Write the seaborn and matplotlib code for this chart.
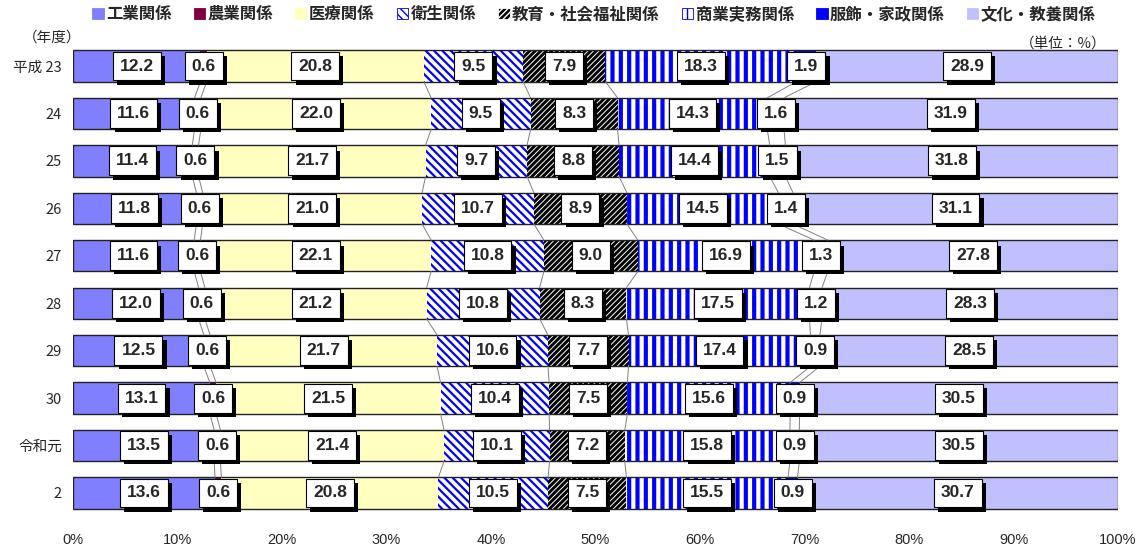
import numpy as np
import pandas as pd
import matplotlib
matplotlib.use('Agg')
import matplotlib.pyplot as plt
import matplotlib.patheffects as pe
from matplotlib.patches import Patch
import seaborn as sns

years = ['平成 23', '24', '25', '26', '27', '28', '29', '30', '令和元', '2']
categories = ['工業関係', '農業関係', '医療関係', '衛生関係', '教育・社会福祉関係',
              '商業実務関係', '服飾・家政関係', '文化・教養関係']

kogyo = [12.2, 11.6, 11.4, 11.8, 11.6, 12.0, 12.5, 13.1, 13.5, 13.6]
nogyo = [0.6, 0.6, 0.6, 0.6, 0.6, 0.6, 0.6, 0.6, 0.6, 0.6]
iryo = [20.8, 22.0, 21.7, 21.0, 22.1, 21.2, 21.7, 21.5, 21.4, 20.8]
eisei = [9.5, 9.5, 9.7, 10.7, 10.8, 10.8, 10.6, 10.4, 10.1, 10.5]
kyoiku = [7.9, 8.3, 8.8, 8.9, 9.0, 8.3, 7.7, 7.5, 7.2, 7.5]
shogyo = [18.3, 14.3, 14.4, 14.5, 16.9, 17.5, 17.4, 15.6, 15.8, 15.5]
fukushoku = [1.9, 1.6, 1.5, 1.4, 1.3, 1.2, 0.9, 0.9, 0.9, 0.9]
bunka = [28.9, 31.9, 31.8, 31.1, 27.8, 28.3, 28.5, 30.5, 30.5, 30.7]

series = [kogyo, nogyo, iryo, eisei, kyoiku, shogyo, fukushoku, bunka]

# face, hatch colour, hatch, hatch linewidth
styles = [
    ('#8080ff', '#8080ff', None, 1.0),
    ('#800040', '#800040', None, 1.0),
    ('#ffffc0', '#ffffc0', None, 1.0),
    ('white', '#0000ff', '\\\\\\\\', 1.6),
    ('black', 'white', '//////', 0.7),
    ('white', '#0000ff', '||', 3.0),
    ('#0000ff', '#0000ff', None, 1.0),
    ('#c0c0ff', '#c0c0ff', None, 1.0),
]

sns.set_theme(style='white')
plt.rcParams['font.family'] = ['Noto Sans CJK JP', 'DejaVu Sans']
num_font = ['Liberation Sans Narrow', 'Liberation Sans', 'DejaVu Sans']

values = np.array(series).T
pct = values / values.sum(axis=1, keepdims=True) * 100
cum = np.cumsum(pct, axis=1)

fig = plt.figure(figsize=(11.42, 5.48), dpi=100)
ax = fig.add_axes([0.064, 0.0571, 0.915, 0.8657])

h = 0.66

# stacked bars drawn as overlapping cumulative bars, right-most first
for k in reversed(range(len(series))):
    fc, hc, hatch, hlw = styles[k]
    df = pd.DataFrame({'year': years, 'x': cum[:, k]})
    n0 = len(ax.patches)
    with plt.rc_context({'hatch.linewidth': hlw}):
        sns.barplot(data=df, x='x', y='year', orient='h', saturation=1, width=h,
                    errorbar=None, facecolor=fc, edgecolor=hc, linewidth=0,
                    hatch=hatch, ax=ax)
    for p in ax.patches[n0:]:
        if hasattr(p, 'set_hatch_linewidth'):
            p.set_hatch_linewidth(hlw)

# outline of each bar
sns.barplot(x=cum[:, -1], y=years, orient='h', width=h, errorbar=None, fill=False,
            edgecolor='#222222', linewidth=1.0, ax=ax)

# series lines
for i in range(len(years) - 1):
    for k in range(len(series)):
        ax.plot([cum[i, k], cum[i + 1, k]], [i + h / 2, i + 1 - h / 2],
                color='#808080', lw=0.7, zorder=1)

# value labels
for i in range(len(years)):
    for k in range(len(series)):
        cx = cum[i, k] - pct[i, k] / 2
        t = ax.text(cx, i, f'{values[i, k]:.1f}', ha='center', va='center',
                    fontsize=12.5, fontweight='bold', family=num_font, zorder=5,
                    bbox=dict(boxstyle='square,pad=0.4', fc='white', ec='black', lw=0.8))
        t.get_bbox_patch().set_path_effects([
            pe.SimplePatchShadow(offset=(3, -3), shadow_rgbFace='black', alpha=1.0),
            pe.Normal()])

ax.set_xlim(0, 100)
ax.set_ylim(len(years) - 0.5, -0.5)
ax.set_xticks(range(0, 101, 10))
ax.set_xticklabels([f'{v}%' for v in range(0, 101, 10)], family=num_font, fontsize=10.5)
ax.set_xlabel('')
ax.set_ylabel('')
ax.tick_params(axis='x', length=0, pad=12)
ax.tick_params(axis='y', length=0, pad=8, labelsize=10.5)
sns.despine(ax=ax, left=True, bottom=True)

fig.text(23 / 1142, 1 - 38 / 548, '（年度）', fontsize=10.5, va='center', ha='left')
fig.text(1107 / 1142, 1 - 44 / 548, '（単位：%）', fontsize=10.5, va='center', ha='right')

handles = [Patch(facecolor=s[0], edgecolor=s[1], hatch=s[2], linewidth=0.6) for s in styles]
fig.legend(handles, categories, loc='center', bbox_to_anchor=(0.52, 1 - 14 / 548), ncol=8,
           frameon=False, handlelength=0.7, handleheight=0.7, handletextpad=0.15,
           columnspacing=1.35, prop=dict(size=11.8, weight='bold'))

fig.savefig('out.png', dpi=100)
